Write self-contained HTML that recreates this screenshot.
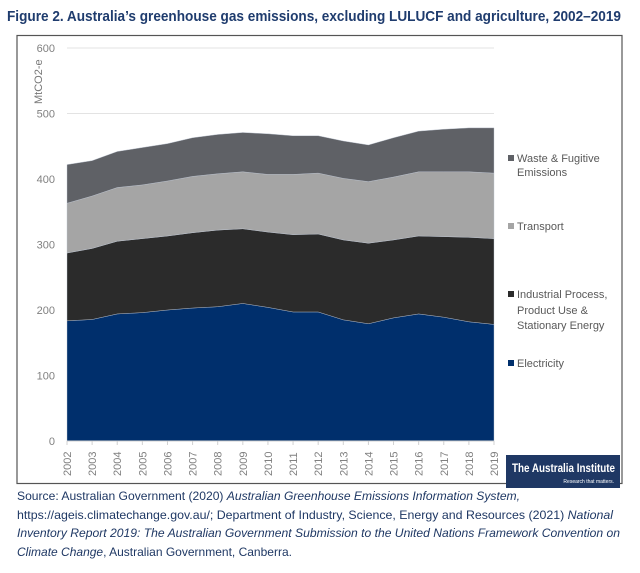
<!DOCTYPE html>
<html><head><meta charset="utf-8"><style>
body{margin:0;background:#fff;}
svg{display:block;font-family:"Liberation Sans",sans-serif;}
</style></head><body>
<svg width="640" height="573" viewBox="0 0 640 573">
<text x="7" y="21" font-size="15" font-weight="bold" fill="#1f3c6e" textLength="614" lengthAdjust="spacingAndGlyphs">Figure 2. Australia’s greenhouse gas emissions, excluding LULUCF and agriculture, 2002–2019</text>
<rect x="17" y="35.5" width="605" height="448" fill="none" stroke="#555" stroke-width="1.2"/>
<g id="grid"></g>
<g id="areas"></g>
<g id="yt"></g>
<g id="xt"></g>
<text transform="translate(42,104) rotate(-90)" font-size="11" fill="#777">MtCO2-e</text>
<g font-size="11" fill="#595959">
<g><rect x="508" y="155" width="6" height="6" fill="#5f6166"/><text x="517" y="162">Waste &amp; Fugitive</text><text x="517" y="176">Emissions</text></g>
<g><rect x="508" y="223" width="6" height="6" fill="#a5a5a5"/><text x="517" y="230">Transport</text></g>
<g><rect x="508" y="291" width="6" height="6" fill="#2b2b2b"/><text x="517" y="298">Industrial Process,</text><text x="517" y="314">Product Use &amp;</text><text x="517" y="329">Stationary Energy</text></g>
<g><rect x="508" y="360" width="6" height="6" fill="#002f6c"/><text x="517" y="367">Electricity</text></g>
</g>
<g>
<rect x="506" y="455" width="114" height="33" fill="#1f3864"/>
<text x="512" y="472" font-size="12" fill="#fff" font-weight="bold" textLength="103" lengthAdjust="spacingAndGlyphs">The Australia Institute</text>
<text x="614" y="483" font-size="5" fill="#fff" text-anchor="end">Research that matters.</text>
</g>
<g font-size="12" fill="#1f3864">
<text x="17" y="500" textLength="503" lengthAdjust="spacingAndGlyphs">Source: Australian Government (2020) <tspan font-style="italic">Australian Greenhouse Emissions Information System,</tspan></text>
<text x="17" y="519" textLength="596" lengthAdjust="spacingAndGlyphs">https://ageis.climatechange.gov.au/; Department of Industry, Science, Energy and Resources (2021) <tspan font-style="italic">National</tspan></text>
<text x="17" y="537" textLength="603" lengthAdjust="spacingAndGlyphs"><tspan font-style="italic">Inventory Report 2019: The Australian Government Submission to the United Nations Framework Convention on</tspan></text>
<text x="17" y="556" textLength="275" lengthAdjust="spacingAndGlyphs"><tspan font-style="italic">Climate Change</tspan>, Australian Government, Canberra.</text>
</g>
</svg>
<script>
const years = [2002,2003,2004,2005,2006,2007,2008,2009,2010,2011,2012,2013,2014,2015,2016,2017,2018,2019];
const electricity = [183.5,185.5,194,196,200,203,205,210,204,197,197,185,179,188,194,189,182,178];
const industrial = [103.5,108.5,111,113,113,115,117,114,115,118,119,122,123,119,119,123,129,131];
const transport = [76,80,82,82,84,86,86,87,88,92,93,94,94,96,98,99,100,100];
const waste = [59,54,55,57,57,59,60,60,62,59,57,57,56,60,62,65,67,69];
const yTicks = [0,100,200,300,400,500,600];
const NS='http://www.w3.org/2000/svg';
const x0=67,x1=494,yBase=441,yTop=48;
const X=i=>x0+(x1-x0)*i/(years.length-1);
const Y=v=>yBase-(yBase-yTop)*v/600;
function mk(tag,attrs,parent){const e=document.createElementNS(NS,tag);for(const k in attrs)e.setAttribute(k,attrs[k]);parent.appendChild(e);return e;}
const grid=document.getElementById('grid');
yTicks.forEach(t=>{if(t>0){const l=mk('line',{x1:x0,x2:x1,y1:Y(t),y2:Y(t),stroke:'#e3e3e3','stroke-width':1},grid);

}});
const series=[{n:'electricity',d:electricity,c:'#002f6c'},{n:'industrial',d:industrial,c:'#2b2b2b'},{n:'transport',d:transport,c:'#a5a5a5'},{n:'waste',d:waste,c:'#5f6166'}];
let base=years.map(()=>0);
const areas=document.getElementById('areas');
series.forEach(s=>{
  const top=base.map((b,i)=>b+s.d[i]);
  let d='M'+years.map((y,i)=>X(i)+','+Y(top[i])).join('L');
  for(let i=years.length-1;i>=0;i--)d+='L'+X(i)+','+Y(base[i]);
  d+='Z';
  const p=mk('path',{d:d,fill:s.c,stroke:'#bfc6d3','stroke-width':0.4},areas);
  
  
  base=top;
});
const yt=document.getElementById('yt');
yTicks.forEach(t=>{const e=mk('text',{x:55,y:Y(t)+4,'text-anchor':'end','font-size':11,fill:'#808080'},yt);e.textContent=t;

});
const xt=document.getElementById('xt');
mk('line',{x1:x0,x2:x1,y1:yBase,y2:yBase,stroke:'#d0d0d0'},xt);
years.forEach((yr,i)=>{
  mk('line',{x1:X(i),x2:X(i),y1:yBase,y2:yBase+4,stroke:'#d0d0d0'},xt);
  const e=mk('text',{transform:'translate('+(X(i)+4)+','+(yBase+35)+') rotate(-90)','font-size':11,fill:'#808080'},xt);
  e.textContent=yr;
  
  
});
</script>
</body></html>
